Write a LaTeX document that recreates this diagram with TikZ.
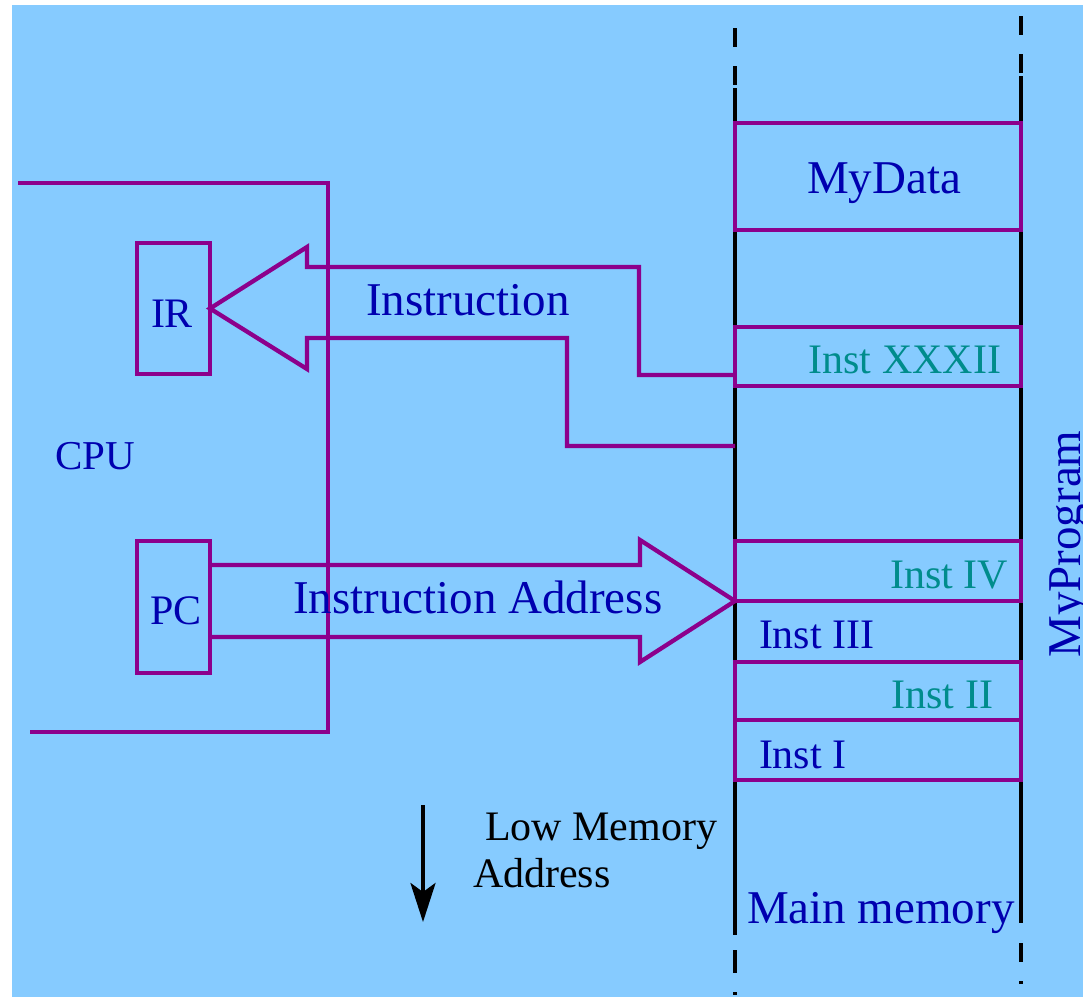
\documentclass[tikz,border=0pt]{standalone}
\usepackage{fontspec}
\setmainfont{Liberation Serif}
\usetikzlibrary{arrows.meta}
\definecolor{bgblue}{RGB}{134,203,255}
\definecolor{linepurple}{RGB}{140,0,140}
\definecolor{textblue}{RGB}{0,0,175}
\definecolor{textteal}{RGB}{0,140,140}
\begin{document}
\begin{tikzpicture}[x=1pt,y=-1pt,
  wire/.style={draw=linepurple,line width=4.3pt,line join=miter},
  membox/.style={wire,rectangle,inner sep=0pt,outer sep=0pt,anchor=north west,minimum width=286pt},
  regbox/.style={wire,rectangle,inner sep=0pt,outer sep=0pt,anchor=north west,minimum width=73pt},
  rail/.style={draw=black,line width=4.3pt},
  lbl/.style={inner sep=0pt,outer sep=0pt},
  bigtxt/.style={lbl,text=textblue,font=\fontsize{47}{50}\selectfont},
  regtxt/.style={lbl,text=textblue,font=\fontsize{42}{46}\selectfont},
  insttxt/.style={lbl,text=textteal,font=\fontsize{42}{46}\selectfont},
  notetxt/.style={lbl,text=black,font=\fontsize{42}{46}\selectfont}]

% page and backdrop
\fill[white] (0,0) rectangle (1083,997);
\fill[bgblue] (12,5) rectangle (1083,997);
\useasboundingbox (0,0) rectangle (1083,997);

% main memory side rails, dashed at both ends
\foreach \a/\b in {28/47,66/85,88/935,950/973,992/995}
  \draw[rail] (735,\a) -- (735,\b);
\foreach \a/\b in {16/35,54/73,76/923,943/962,981/984}
  \draw[rail] (1021,\a) -- (1021,\b);

% memory cells
\node[membox,minimum height=107pt] (mydata) at (735,123) {};
\node[membox,minimum height=59pt] (xxxii) at (735,327) {};
\node[membox,minimum height=60pt] (instiv) at (735,541) {};
\node[membox,minimum height=58pt] (instii) at (735,662) {};
\node[membox,minimum height=60pt] (insti) at (735,720) {};

% CPU outline
\coordinate (cpuTop) at (18,183);
\coordinate (cpuBot) at (30,732);
\draw[wire] (cpuTop) -| (328,732) -- (cpuBot);

% registers
\node[regbox,minimum height=131pt] (ir) at (137,243) {};
\node[regbox,minimum height=132pt] (pc) at (137,541) {};

% instruction fetched from memory into IR
\coordinate (fetchA) at (735,375);
\coordinate (fetchB) at (735,446);
\draw[wire] (fetchA) -- (639,375) -- (639,267) -- (307,267) -- (307,247)
  -- (ir.east) -- (307,369) -- (307,338) -- (567,338) -- (567,446) -- (fetchB);

% instruction address from PC to memory
\draw[wire] (pc.east |- 0,565) -- (640,565) -- (640,540) -- (instiv.south west)
  -- (640,662) -- (640,637) -- (pc.east |- 0,637);

% direction of low memory addresses
\coordinate (lowTop) at (423,805);
\coordinate (lowTip) at (423,922);
\draw[line width=4pt,-{Stealth[length=39pt,width=25pt,inset=9pt]}] (lowTop) -- (lowTip);

% labels
\node[bigtxt,anchor=base] (tMyData) at (884,193) {MyData};
\node[insttxt,anchor=base east] (tXXXII) at (1001,373) {Inst XXXII};
\node[bigtxt,anchor=base west] (tInstr) at (366,315) {Instruction};
\node[regtxt,anchor=base] (tIR) at (172,327) {IR};
\node[regtxt,anchor=base west,font=\fontsize{41}{45}\selectfont] (tCPU) at (55,469) {CPU};
\node[regtxt,anchor=base] (tPC) at (176,624) {PC};
\node[bigtxt,anchor=base west] (tAddr) at (293,613) {Instruction Address};
\node[insttxt,anchor=base east] (tIV) at (1008,588) {Inst IV};
\node[regtxt,anchor=base west] (tIII) at (759,648) {Inst III};
\node[insttxt,anchor=base east] (tII) at (993,708) {Inst II};
\node[regtxt,anchor=base west] (tI) at (759,768) {Inst I};
\node[bigtxt,anchor=base west] (tMain) at (747,923) {Main memory};
\node[bigtxt,anchor=base,rotate=90] (tProg) at (1080,544) {MyProgram};
\node[notetxt,anchor=base west] (tLow) at (485,840) {Low Memory};
\node[notetxt,anchor=base west] (tLowAddr) at (473,887) {Address};
\end{tikzpicture}
\end{document}
